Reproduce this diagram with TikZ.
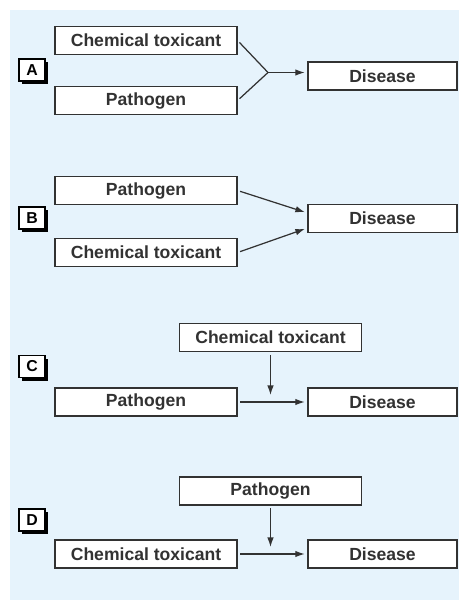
\documentclass[tikz,border=0pt]{standalone}
\usepackage{fontspec}
\setmainfont{Liberation Sans}
\usetikzlibrary{arrows.meta,shadows}

\definecolor{panelbg}{RGB}{230,243,252}
\definecolor{inkgray}{RGB}{50,50,50}

\tikzset{
  causebox/.style={draw=inkgray, fill=white, line width=0.7pt, text=inkgray,
    minimum width=3.64cm, minimum height=0.56cm, inner sep=0pt,
    font=\bfseries\fontsize{10}{12}\selectfont},
  diseasebox/.style={causebox, minimum width=2.98cm},
  tagbox/.style={draw=black, fill=white, line width=0.6pt,
    minimum width=0.52cm, minimum height=0.44cm, inner sep=0pt,
    font=\bfseries\fontsize{9}{10}\selectfont,
    drop shadow={shadow xshift=0.06cm, shadow yshift=-0.06cm, fill=black, opacity=1}},
  causeline/.style={draw=inkgray, line width=0.7pt, shorten <=1.5pt},
  causearrow/.style={causeline, -{Latex[length=1.9mm,width=1.3mm]}, shorten >=1.5pt}
}

\begin{document}
\begin{tikzpicture}[x=0.02cm, y=-0.02cm]

  \useasboundingbox (0,0) rectangle (459,603);
  \fill[panelbg] (10,10) rectangle (459,600);

  % ---------------- A: either one alone ----------------
  \node[tagbox] (tagA) at (32,70) {A};
  \node[causebox] (ctA) at (146,40.5) {Chemical toxicant};
  \node[causebox] (pA) at (146,100.5) {Pathogen};
  \node[diseasebox] (dA) at (382.5,76) {Disease};
  \coordinate (jA) at (268,72.5);
  \draw[causeline] (ctA.east) -- (jA);
  \draw[causeline] (pA.east) -- (jA);
  \draw[causearrow, shorten <=0pt] (jA) -- (jA -| dA.west);

  % ---------------- B: both together ----------------
  \node[tagbox] (tagB) at (32,218) {B};
  \node[causebox] (pB) at (146,190.5) {Pathogen};
  \node[causebox] (ctB) at (146,252.5) {Chemical toxicant};
  \node[diseasebox] (dB) at (382.5,218.5) {Disease};
  \draw[causearrow] (pB.east) -- ([yshift=0.11cm]dB.west);
  \draw[causearrow] (ctB.east) -- ([yshift=-0.19cm]dB.west);

  % ---------------- C: toxicant acts on the pathway ----------------
  \node[tagbox] (tagC) at (32,366.5) {C};
  \node[causebox] (ctC) at (270.5,337.5) {Chemical toxicant};
  \node[causebox] (pC) at (146,402) {Pathogen};
  \node[diseasebox] (dC) at (382.5,402) {Disease};
  \coordinate (mC) at (ctC.south |- pC.east);
  \draw[causearrow] (pC.east) -- (dC.west);
  \draw[causearrow, shorten >=4pt] (ctC.south) -- (mC);

  % ---------------- D: pathogen acts on the pathway ----------------
  \node[tagbox] (tagD) at (32,520) {D};
  \node[causebox] (pD) at (270.5,491) {Pathogen};
  \node[causebox] (ctD) at (146,554) {Chemical toxicant};
  \node[diseasebox] (dD) at (382.5,554) {Disease};
  \coordinate (mD) at (pD.south |- ctD.east);
  \draw[causearrow] (ctD.east) -- (dD.west);
  \draw[causearrow, shorten >=4pt] (pD.south) -- (mD);

\end{tikzpicture}
\end{document}
